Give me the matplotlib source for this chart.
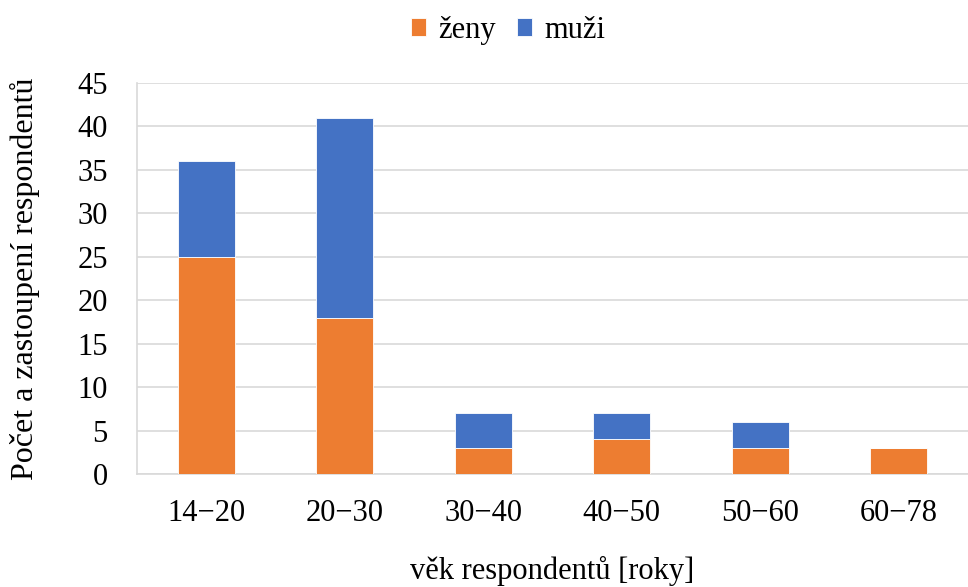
import numpy as np
import matplotlib.pyplot as plt

plt.rcParams['font.family'] = ['Liberation Serif', 'DejaVu Serif']

kategorie = ['14\u221220', '20\u221230', '30\u221240', '40\u221250', '50\u221260', '60\u221278']
zeny = [25, 18, 3, 4, 3, 3]
muzi = [11, 23, 4, 3, 3, 0]

fig = plt.figure(figsize=(9.68, 5.87), dpi=100)
ax = fig.add_axes([0.1415, 0.1925, 0.8585, 0.666])

x = np.arange(len(kategorie))
w = 0.41
ax.bar(x, zeny, w, color='#ED7D31', edgecolor='white', linewidth=0.6, label='ženy', zorder=3)
ax.bar(x, muzi, w, bottom=zeny, color='#4472C4', edgecolor='white', linewidth=0.6, label='muži', zorder=3)

ax.set_xlim(-0.5, len(kategorie) - 0.5)
ax.set_ylim(0, 45)
ax.set_yticks(range(0, 46, 5))
ax.set_xticks(x)
ax.set_xticklabels(kategorie)
ax.grid(axis='y', color='#D9D9D9', linewidth=1.2, zorder=0)
for s in ['top', 'right']:
    ax.spines[s].set_visible(False)
ax.spines['left'].set_color('#D9D9D9')
ax.spines['bottom'].set_color('#D9D9D9')
ax.spines['left'].set_linewidth(1.2)
ax.spines['bottom'].set_linewidth(1.2)
ax.tick_params(length=0, labelsize=22)
ax.tick_params(axis='y', pad=21)
ax.tick_params(axis='x', pad=18)

ax.set_xlabel('věk respondentů [roky]', fontsize=22, labelpad=20)
ax.set_ylabel('Počet a zastoupení respondentů', fontsize=23, va='center')
ax.yaxis.set_label_coords(-0.135, 0.5)

fig.legend(loc='upper center', bbox_to_anchor=(0.525, 1.02), ncol=2, frameon=False,
           fontsize=22, handlelength=0.5, handleheight=0.5, handletextpad=0.4, columnspacing=0.7)

fig.savefig('out.png', dpi=100)
